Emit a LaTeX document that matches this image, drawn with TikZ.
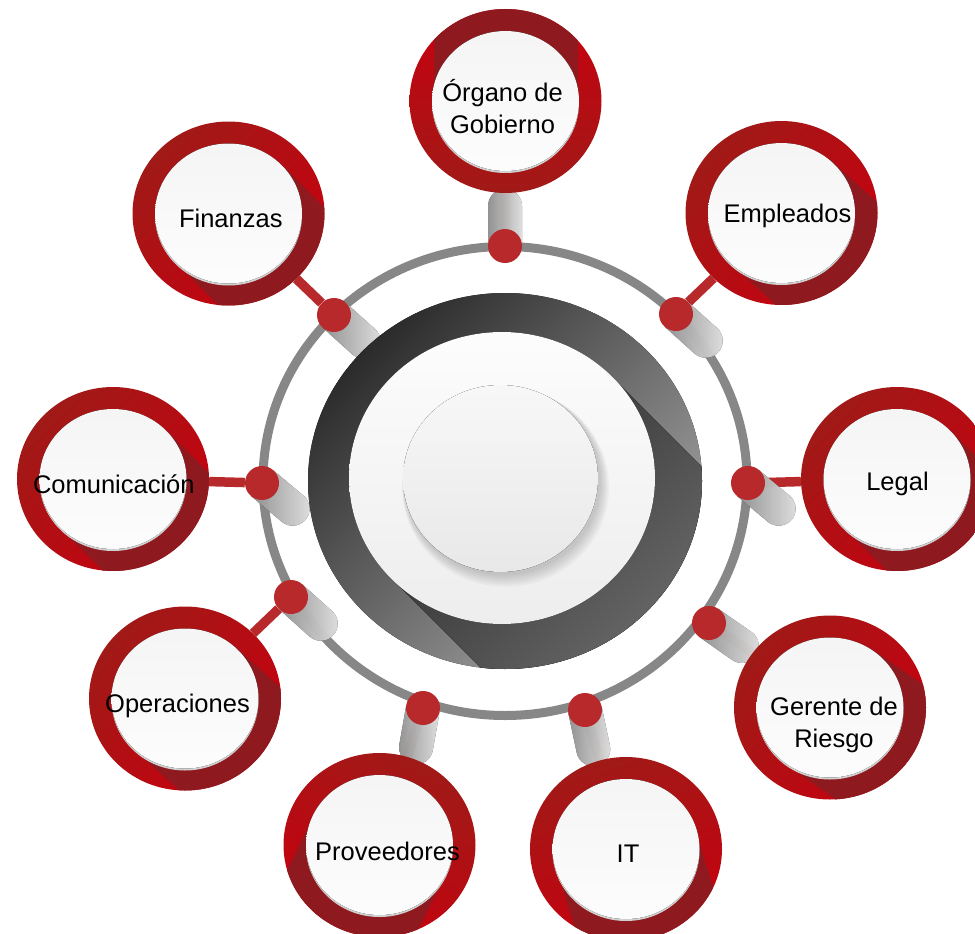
\documentclass[tikz,border=0pt]{standalone}
\usepackage{fontspec}
\setmainfont{Liberation Sans}
\usetikzlibrary{shapes.geometric,calc}

\definecolor{ringDark}{HTML}{A01A17}
\definecolor{ringBright}{HTML}{C8000F}
\definecolor{ringShade}{HTML}{8E1A1F}
\definecolor{knobRed}{HTML}{B8292B}
\definecolor{loopGray}{HTML}{878787}

\pgfdeclarelayer{back}
\pgfdeclarelayer{shade}
\pgfsetlayers{back,shade,main}

\tikzset{
  sat/.style={ellipse, minimum width=192pt, minimum height=184pt, inner sep=0pt,
              top color=ringDark, middle color=ringBright, bottom color=ringBright},
  face/.style={top color=black!4, bottom color=black!1},
  knob/.style={circle, minimum size=34pt, inner sep=0pt, fill=knobRed},
  stick/.style={line width=9.5pt, draw=knobRed},
  txt/.style={font=\fontsize{25.5}{31.5}\selectfont, align=center, anchor=base, inner sep=0pt},
}

\begin{document}
\begin{tikzpicture}[x=1pt,y=-1pt]
    \useasboundingbox (0,0) rectangle (975,934);
    \clip (0,0) rectangle (975,934);

    % hub
    \coordinate (hub) at (505,481);
    \fill[top color=black!83, middle color=black!50, bottom color=black!35, shading angle=45]
        (hub) ellipse [x radius=197, y radius=188];
    \begin{scope}
        \clip (hub) ellipse [x radius=197, y radius=188];
        \fill[top color=black!82, bottom color=black!48, shading angle=45]
            (610,375) -- (822,587) -- (606,793) -- (394,581) -- cycle;
    \end{scope}
    \fill[top color=black!1, bottom color=black!7] (502,478) ellipse [x radius=153, y radius=146];
    \foreach \k in {1,...,6} {
        \fill[black, opacity=0.03] (502+\k*0.6,480+\k*1.2) ellipse [x radius=97.5+\k, y radius=93.5+\k];
    }
    \fill[top color=black!3, bottom color=black!9] (500.5,478.5) ellipse [x radius=97.5, y radius=93.5];

    % ring
    \begin{pgfonlayer}{back}
        \draw[line width=9pt, loopGray] (hub) ellipse [x radius=242, y radius=234.5];
    \end{pgfonlayer}

    % satellites
    \foreach \n/\px/\py/\s in {gob/505.5/101/-90, emp/781.5/213/42, leg/897/479/45,
                               ger/830/707.5/35, it/626/849/73, prov/379.5/845/116,
                               ope/185/698.5/42, com/113/479/45, fin/228.5/213.5/45} {
        \pgfmathsetmacro\sa{90-\s}
        \node[sat, shading angle=\sa] (\n) at (\px,\py) {};
        \begin{scope}
            \clip (\px,\py) ellipse [x radius=96, y radius=92];
            \fill[ringShade] ($(\n)+(\s-90:72)$) -- ++(\s:220)
                -- ($(\n)+(\s+90:72)+(\s:220)$) -- ($(\n)+(\s+90:72)$) -- cycle;
        \end{scope}
        \fill[black!18] (\px,\py+2) ellipse [x radius=73.5, y radius=70];
        \fill[face] (\px,\py) ellipse [x radius=73.5, y radius=70];
    }

    % knobs on the ring
    \foreach \n/\px/\py/\s in {gob/505/246/-90, emp/676/314/42, leg/748/483/40,
                               ger/709/623/35, it/585/710/78, prov/423/708/100,
                               ope/291/597/42, com/262/483/40, fin/334/315/42} {
        \node[knob] (k\n) at (\px,\py) {};
        \begin{pgfonlayer}{back}
            \draw[stick] (k\n) -- (\n);
        \end{pgfonlayer}
        \begin{pgfonlayer}{shade}
            \begin{scope}[shift={(\px,\py)}, rotate={-1*(\s)}]
                \fill[left color=black!35, right color=white, opacity=0.85]
                    (0,-17) -- (40,-17) arc [start angle=-90, end angle=90, radius=17] -- (0,17) -- cycle;
            \end{scope}
        \end{pgfonlayer}
    }

    % texts
    \node[txt] (tgob) at (502.5,133.3) {Órgano de\\Gobierno};
    \node[txt] (temp) at (787.5,222) {Empleados};
    \node[txt] (tleg) at (897.5,490) {Legal};
    \node[txt] (tger) at (834,747) {Gerente de\\Riesgo};
    \node[txt] (tit) at (628,862) {IT};
    \node[txt] (tprov) at (387.5,860) {Proveedores};
    \node[txt] (tope) at (177.5,712) {Operaciones};
    \node[txt] (tcom) at (113.8,493) {Comunicación};
    \node[txt] (tfin) at (230.8,227) {Finanzas};
\end{tikzpicture}
\end{document}
